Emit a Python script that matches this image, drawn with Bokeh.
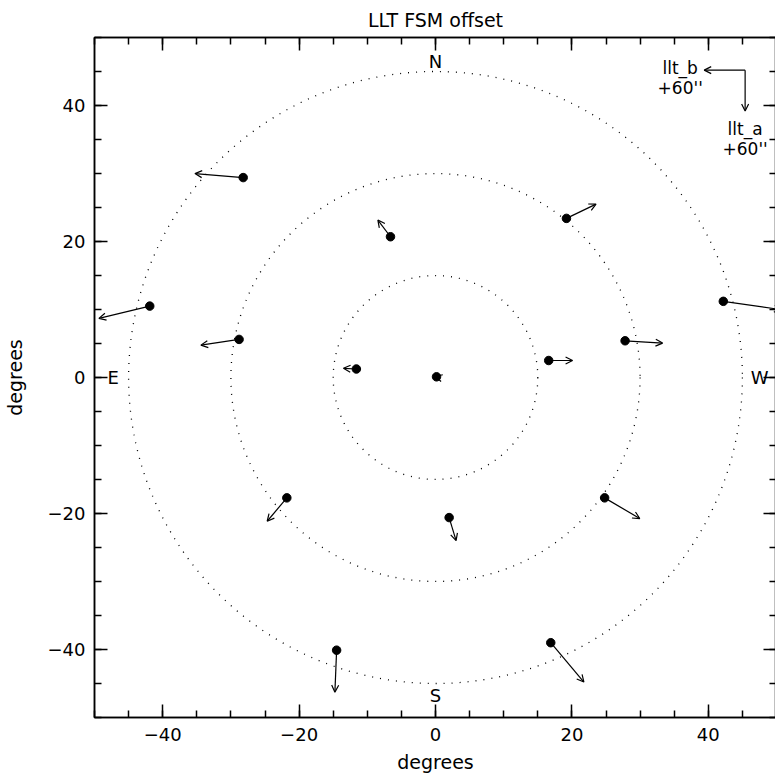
from bokeh.plotting import figure
from bokeh.models import (Range1d, LinearAxis, SingleIntervalTicker, Arrow, OpenHead,
                          ColumnDataSource, CustomLabelingPolicy)
from bokeh.core.properties import value
from bokeh.embed import file_html
from bokeh.resources import INLINE

# ---------------- data ----------------
# star positions on sky (degrees) and FSM offsets (arcsec)
pos_x = [-28.2, -6.6, -41.9, -28.8, -11.6, 0.15, 27.8, 42.2, 19.2, 16.6, -21.8, 2.0, -14.5, 24.8, 16.9]
pos_y = [29.4, 20.7, 10.5, 5.6, 1.25, 0.1, 5.4, 11.2, 23.4, 2.5, -17.7, -20.6, -40.1, -17.7, -39.0]
off_x = [-70.7, -18.5, -74.5, -56.0, -19.0, -2.0, 55.0, 85.0, 43.4, 35.0, -28.8, 10.2, -2.5, 51.5, 48.6]
off_y = [5.9, 24.5, -18.0, -8.4, 1.0, 0.5, -3.4, -12.2, 21.0, 0.0, -34.4, -33.8, -61.7, -30.4, -57.9]
arrow_scale = 0.1          # degrees per arcsec
ring_radii = [15, 30, 45]  # degrees
compass_labels = ["N", "S", "E", "W"]
legend_corner = (45.4, 45.2)
legend_names = ["llt_b", "llt_a"]
legend_off_x = [-60, 0]
legend_off_y = [0, -60]
legend_text = ["llt_b\n+60''", "llt_a\n+60''"]

FONT = "DejaVu Sans"

p = figure(frame_width=682, frame_height=680,
           x_range=Range1d(-50, 50), y_range=Range1d(-50, 50),
           output_backend="svg", toolbar_location=None,
           min_border_left=0, min_border_right=0, min_border_top=0, min_border_bottom=0,
           x_axis_label="degrees", y_axis_label="degrees")
p.background_fill_color = "white"
p.border_fill_color = "white"
p.outline_line_color = "black"
p.outline_line_width = 1.5
p.xgrid.visible = False
p.ygrid.visible = False

p.title.text = "LLT FSM offset"
p.title.align = "center"
p.title.text_font = FONT
p.title.text_font_size = "19px"
p.title.text_font_style = "normal"
p.title.text_color = "black"
p.title.standoff = 13

def style_axis(ax, labels=True):
    ax.ticker = SingleIntervalTicker(interval=20, num_minor_ticks=4)
    ax.major_tick_in = 13
    ax.major_tick_out = 0
    ax.minor_tick_in = 7
    ax.minor_tick_out = 0
    ax.axis_line_color = "black"
    ax.axis_line_width = 1.5
    ax.major_tick_line_color = "black"
    ax.major_tick_line_width = 1.5
    ax.minor_tick_line_color = "black"
    ax.minor_tick_line_width = 1.5
    if labels:
        ax.major_label_text_font = FONT
        ax.major_label_text_font_size = "18px"
        ax.major_label_text_color = "black"
        ax.axis_label_text_font = FONT
        ax.axis_label_text_font_size = "19px"
        ax.axis_label_text_font_style = "normal"
        ax.axis_label_text_color = "black"
    else:
        ax.major_label_policy = CustomLabelingPolicy(code="return new Set()")
        ax.major_label_text_font_size = "0px"
        ax.major_label_standoff = 0
        ax.axis_label = None

style_axis(p.xaxis[0])
style_axis(p.yaxis[0])
p.xaxis[0].major_label_standoff = 10
p.xaxis[0].axis_label_standoff = 7
p.yaxis[0].major_label_standoff = 9
p.yaxis[0].axis_label_standoff = 19

top_ax = LinearAxis()
style_axis(top_ax, labels=False)
p.add_layout(top_ax, "above")
right_ax = LinearAxis()
style_axis(right_ax, labels=False)
p.add_layout(right_ax, "right")

# dotted rings
p.ellipse(x=[0] * len(ring_radii), y=[0] * len(ring_radii),
          width=[2 * r for r in ring_radii], height=[2 * r for r in ring_radii],
          fill_color=None, line_color="black", line_width=1.3, line_dash="1 7")

# arrows
x1 = [x + dx * arrow_scale for x, dx in zip(pos_x, off_x)]
y1 = [y + dy * arrow_scale for y, dy in zip(pos_y, off_y)]
src = ColumnDataSource(dict(x0=pos_x, y0=pos_y, x1=x1, y1=y1))
p.add_layout(Arrow(end=OpenHead(size=7, line_width=1.2, line_color="black"),
                   x_start="x0", y_start="y0", x_end="x1", y_end="y1", source=src,
                   line_color="black", line_width=1.2))

# star points
p.scatter(pos_x, pos_y, size=8.5, color="black")

# compass labels
p.text(x=[0, 0, -50, 50], y=[50, -50, 0, 0], text=compass_labels,
       x_offset=[0, 0, 13, -8], y_offset=[13, -12, 0, 0],
       text_align=["center", "center", "left", "right"],
       text_baseline=["top", "bottom", "middle", "middle"],
       text_font=value(FONT), text_font_size="18px", text_color="black")

# legend arrows
lx0 = [legend_corner[0]] * 2
ly0 = [legend_corner[1]] * 2
lx1 = [legend_corner[0] + d * arrow_scale for d in legend_off_x]
ly1 = [legend_corner[1] + d * arrow_scale for d in legend_off_y]
lsrc = ColumnDataSource(dict(x0=lx0, y0=ly0, x1=lx1, y1=ly1))
p.add_layout(Arrow(end=OpenHead(size=7, line_width=1.2, line_color="black"),
                   x_start="x0", y_start="y0", x_end="x1", y_end="y1", source=lsrc,
                   line_color="black", line_width=1.2))
p.text(x=lx1, y=ly1, text=legend_text,
       x_offset=[-24, 0], y_offset=[-12, 8],
       text_align="center", text_baseline="top",
       text_font=value(FONT), text_font_size="17px", text_color="black",
       text_line_height=1.0)

open("out.html", "w").write(file_html(p, INLINE))
